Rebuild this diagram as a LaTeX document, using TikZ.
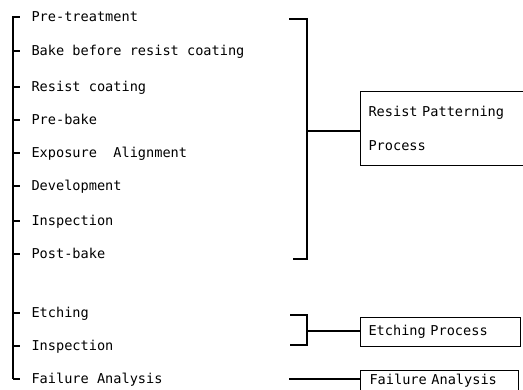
\documentclass[tikz,border=0pt]{standalone}
\usepackage{fontspec}
\setmonofont{DejaVu Sans Mono}
\begin{document}
\begin{tikzpicture}[x=1pt,y=-1pt,line width=1.1pt,
  item/.style={anchor=west,inner xsep=0pt,inner ysep=0pt,text height=9.6pt,text depth=0pt,font=\ttfamily\fontsize{13.6}{16}\selectfont},
  procbox/.style={draw,anchor=north west,inner xsep=8pt,align=left,font=\ttfamily\fontsize{13.6}{34}\selectfont}]
\useasboundingbox (0,0) rectangle (523,389);
\clip (0,0) rectangle (523,389);
% items
\node[item] (i1) at (31,17) {Pre-treatment};
\node[item] (i2) at (31,51) {Bake before resist coating};
\node[item] (i3) at (31,87) {Resist coating};
\node[item] (i4) at (31,120) {Pre-bake};
\node[item] (i5) at (31,153) {Exposure\ \ Alignment};
\node[item] (i6) at (31,186) {Development};
\node[item] (i7) at (31,221) {Inspection};
\node[item] (i8) at (31,254) {Post-bake};
\node[item] (i9) at (31,313) {Etching};
\node[item] (i10) at (31,346) {Inspection};
\node[item] (i11) at (31,379) {Failure Analysis};
% trunk
\coordinate (ttop) at (13,16);
\coordinate (tbot) at (13,379);
\draw[line width=1.3pt] (ttop) -- (tbot);
\foreach \n in {i1,i2,i3,i4,i5,i6,i7,i8,i9,i10,i11}
  \draw (ttop|-\n.west) -- ([xshift=-11pt]\n.west);
% boxes
\node[procbox,text width=164pt,minimum height=74pt] (rp) at (360,91) {Resist Patterning\\Process};
\node[procbox,text width=144pt,minimum height=29pt,font=\ttfamily\fontsize{13.6}{16}\selectfont] (ep) at (360,317) {Etching Process};
\node[procbox,text width=140pt,inner ysep=2pt,text height=12pt,text depth=20pt,font=\ttfamily\fontsize{13.6}{16}\selectfont,inner xsep=9pt] (fa) at (360,370) {Failure Analysis};
% brackets
\coordinate (b1t) at (289,19);
\coordinate (b1b) at (293,259);
\coordinate (b1m) at (307,131);
\draw (b1t) -- (307,19) -- (307,259) -- (b1b);
\draw (b1m) -- (rp.west|-b1m);
\coordinate (b2t) at (290,315);
\coordinate (b2b) at (290,345);
\coordinate (b2m) at (307,331);
\draw (b2t) -- (307,315) -- (307,345) -- (b2b);
\draw (b2m) -- (ep.west|-b2m);
\coordinate (fl) at (289,379);
\draw (fl) -- (fa.west|-fl);
\end{tikzpicture}
\end{document}
